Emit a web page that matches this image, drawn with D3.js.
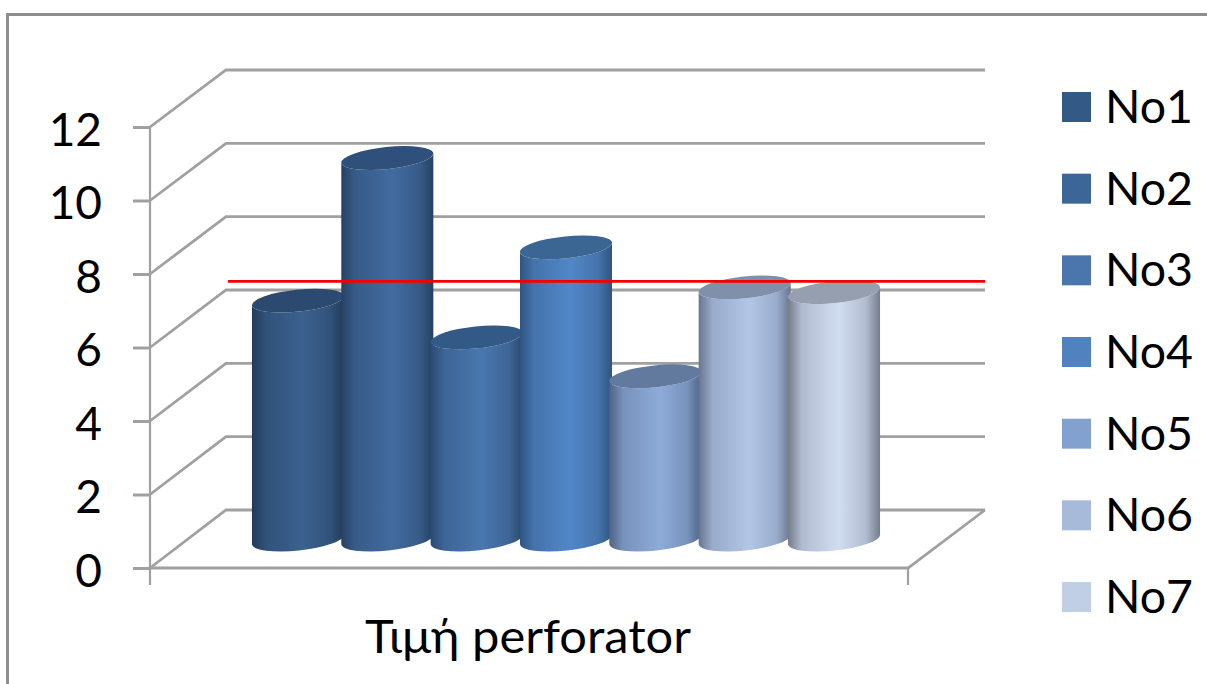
<!DOCTYPE html>
<html>
<head>
<meta charset="utf-8">
<script src="https://cdn.jsdelivr.net/npm/d3@7"></script>
<style>
  html, body { margin: 0; padding: 0; background: #fff; }
  svg { display: block; }
  text { font-family: Lato, "Noto Sans", sans-serif; fill: #000; }
</style>
</head>
<body>
<svg id="chart" width="1207" height="684"></svg>
<script>
// Chart content
const seriesNames = ["No1", "No2", "No3", "No4", "No5", "No6", "No7"];
const seriesValues = [6.5, 10.38, 5.5, 7.95, 4.44, 6.86, 6.73];
const thresholdValue = 7.8;
const categoryLabel = "Τιμή perforator";
const yTicks = [0, 2, 4, 6, 8, 10, 12];

// Shading per series: side edge, side shoulder, side highlight, top cap, legend swatch
const edgeColors = ["#233a58", "#274163", "#2a4a72", "#2f5480", "#4f6484", "#687690", "#747c8c"];
const shoulderColors = ["#31527a", "#375b88", "#3e6596", "#4573ab", "#7791bb", "#99abcb", "#b0bbcf"];
const lightColors = ["#3b618f", "#426b9f", "#4877af", "#5187c8", "#8eabd8", "#b3c6e5", "#d1ddf1"];
const capColors = ["#2c4a6f", "#2f507a", "#335a87", "#3b6593", "#627a9e", "#8090aa", "#969fb0"];
const swatchColors = ["#335a87", "#3d6698", "#4a76ad", "#4f82bf", "#83a1cf", "#a7bada", "#c1cfe6"];

const svg = d3.select("#chart");

// Outer chart frame
svg.append("path")
  .attr("d", "M7.5,684V14.5H1207")
  .attr("fill", "none").attr("stroke", "#8e8e8e").attr("stroke-width", 3);

// The 3D box: a front plane, a back wall, and the cylinders half way between
const yFront = d3.scaleLinear().domain([0, 12]).range([568, 127]);
const yBack = d3.scaleLinear().domain([0, 12]).range([510, 70]);
const yMid = d3.scaleLinear().domain([0, 12]).range([539.5, 98.5]);
const xFront = d3.scaleLinear().domain([0, 1]).range([150, 908]);
const xBack = d3.scaleLinear().domain([0, 1]).range([226, 985]);
const xBar = d3.scaleBand().domain(seriesNames).range([253.3, 878.7]).paddingInner(0).paddingOuter(0);

const gridStroke = "#a0a0a0";
const grid = svg.append("g").attr("fill", "none").attr("stroke", gridStroke).attr("stroke-width", 2.8);

// Back-wall gridlines and their diagonals on the side wall
grid.selectAll("path.wall").data(yTicks).join("path").attr("class", "wall")
  .attr("d", v => `M${xFront(0)},${yFront(v)}L${xBack(0)},${yBack(v)}L${xBack(1)},${yBack(v)}`);

// Floor edge
grid.append("path")
  .attr("d", `M${xFront(0)},${yFront(0)}L${xFront(1)},${yFront(0)}L${xBack(1)},${yBack(0)}`);

// Value axis on the front plane
const axis = svg.append("g")
  .attr("transform", `translate(${xFront(0)},0)`)
  .call(d3.axisLeft(yFront).tickValues(yTicks).tickSize(17).tickPadding(31));
axis.select(".domain").attr("d", `M0,${yFront(12)}V585`).attr("stroke", gridStroke).attr("stroke-width", 2.2);
axis.selectAll(".tick line").attr("stroke", gridStroke).attr("stroke-width", 3);
axis.selectAll(".tick text").attr("font-size", 46).attr("dy", 18)
  .style("font-family", 'Lato, "Noto Sans", sans-serif');

// Category-axis end tick
svg.append("line")
  .attr("x1", xFront(1)).attr("x2", xFront(1))
  .attr("y1", yFront(0)).attr("y2", 585)
  .attr("stroke", gridStroke).attr("stroke-width", 2.2);

// Side shading gradients, dark at the edges and lightest just right of centre
const defs = svg.append("defs");
seriesNames.forEach((name, i) => {
  const g = defs.append("linearGradient").attr("id", `side-${name}`);
  g.append("stop").attr("offset", "0%").attr("stop-color", edgeColors[i]);
  g.append("stop").attr("offset", "15%").attr("stop-color", shoulderColors[i]);
  g.append("stop").attr("offset", "55%").attr("stop-color", lightColors[i]);
  g.append("stop").attr("offset", "85%").attr("stop-color", shoulderColors[i]);
  g.append("stop").attr("offset", "100%").attr("stop-color", edgeColors[i]);
});

// Cylinders, drawn left to right so each overlaps the previous one
const rx = xBar.bandwidth() / 2 + 1.6;
const ry = 11;
const tilt = -6;
const tiltRad = tilt * Math.PI / 180;
const dxTip = rx * Math.cos(tiltRad);
const dyTip = rx * Math.sin(tiltRad);

const bars = svg.append("g").selectAll("g")
  .data(seriesNames.map((name, i) => ({ name, value: seriesValues[i], i })))
  .join("g");

bars.append("path")
  .attr("fill", d => `url(#side-${d.name})`)
  .attr("d", d => {
    const cx = xBar(d.name) + xBar.bandwidth() / 2;
    const yt = yMid(d.value), yb = yMid(0);
    return `M${cx - dxTip},${yt - dyTip}` +
      `L${cx - dxTip},${yb - dyTip}` +
      `A${rx},${ry} ${tilt} 0 0 ${cx + dxTip},${yb + dyTip}` +
      `L${cx + dxTip},${yt + dyTip}` +
      `A${rx},${ry} ${tilt} 0 1 ${cx - dxTip},${yt - dyTip}Z`;
  });

bars.append("ellipse")
  .attr("rx", rx).attr("ry", ry)
  .attr("fill", d => capColors[d.i])
  .attr("transform", d =>
    `translate(${xBar(d.name) + xBar.bandwidth() / 2},${yMid(d.value)}) rotate(${tilt})`);

// Reference line across the back of the plot
svg.append("line")
  .attr("x1", xBack(0) + 2).attr("x2", xBack(1))
  .attr("y1", yFront(thresholdValue)).attr("y2", yFront(thresholdValue))
  .attr("stroke", "#f40000").attr("stroke-width", 2.6);

// Category label
svg.append("text")
  .attr("x", 528).attr("y", 653)
  .attr("text-anchor", "middle").attr("font-size", 46)
  .attr("textLength", 326).attr("lengthAdjust", "spacingAndGlyphs")
  .text(categoryLabel);

// Legend
const yLegend = d3.scalePoint().domain(seriesNames).range([107, 597]);
const legend = svg.append("g").selectAll("g").data(seriesNames).join("g")
  .attr("transform", d => `translate(0,${yLegend(d)})`);
legend.append("rect")
  .attr("x", 1062).attr("y", -15).attr("width", 29).attr("height", 30)
  .attr("fill", (d, i) => swatchColors[i]);
legend.append("text")
  .attr("x", 1105).attr("y", 16).attr("font-size", 46)
  .attr("textLength", 88).attr("lengthAdjust", "spacingAndGlyphs")
  .text(d => d);
</script>
</body>
</html>
